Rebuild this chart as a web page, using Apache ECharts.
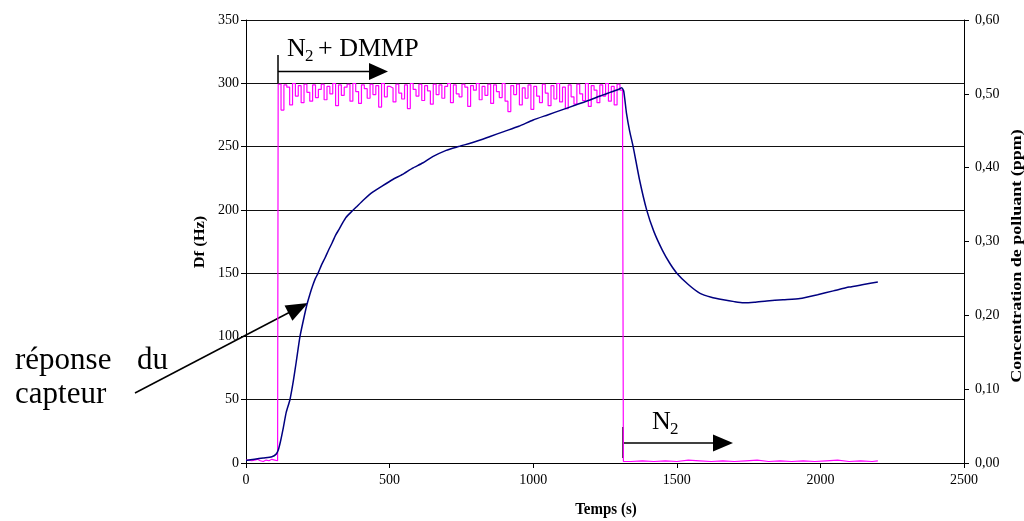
<!DOCTYPE html>
<html>
<head>
<meta charset="utf-8">
<script src="https://cdn.jsdelivr.net/npm/echarts@6/dist/echarts.min.js"></script>
<style>
html,body{margin:0;padding:0;background:#fff;}
#chart{width:1024px;height:521px;}
</style>
</head>
<body>
<div id="chart"></div>
<script>
// ---- data ----
var xTicks = [0, 500, 1000, 1500, 2000, 2500];
var leftTicks = [0, 50, 100, 150, 200, 250, 300, 350];
var rightTicks = ['0,00','0,10','0,20','0,30','0,40','0,50','0,60'];

// sensor response Δf (Hz)
var respTime = [0,30,60,90,105,112,120,130,140,153,165,175,188,200,212,222,232,241,251,263,275,288,300,312,325,336,348,365,383,410,441,475,511,545,580,615,650,697,740,800,850,900,950,1000,1050,1100,1150,1200,1233,1270,1300,1308,1315,1325,1336,1348,1370,1395,1420,1450,1475,1500,1540,1581,1620,1662,1700,1732,1770,1813,1870,1929,1990,2045,2100,2150,2200];
var respHz = [2,3,4,5,7,10,17,28,40,50,65,80,100,113,125,133,140,145.5,150,156.5,162,168.5,174,180,185,189.5,194,198,202,208,214,219,224,228,233,237,242,247,250,254,258,262,266,271,275,279,283,287,290,293,295.5,296.5,294,276,262,250,224,200,183,168,158,150,141,134,131,129,127.5,126.6,127,128,129,130,133,136,139,141,143];

// pollutant concentration (ppm)
var concTimeBefore = [0,10,20,30,40,50,60,70,80,90,100,110];
var concBefore = [0.004,0.003,0.004,0.005,0.003,0.002,0.004,0.003,0.005,0.004,0.003,0.004];
var concPlateau = [
0.513,0.478,0.512,0.509,0.485,0.514,0.497,0.511,0.488,0.513,
0.502,0.490,0.512,0.495,0.506,0.513,0.492,0.510,0.500,0.514,
0.484,0.512,0.498,0.509,0.513,0.490,0.514,0.503,0.487,0.512,
0.507,0.494,0.513,0.499,0.511,0.482,0.514,0.496,0.510,0.508,
0.489,0.513,0.501,0.493,0.512,0.480,0.514,0.506,0.497,0.513,
0.491,0.511,0.504,0.486,0.513,0.499,0.512,0.494,0.510,0.514,
0.488,0.512,0.500,0.496,0.513,0.509,0.483,0.511,0.505,0.514,
0.492,0.510,0.498,0.513,0.487,0.512,0.503,0.495,0.514,0.490,
0.476,0.511,0.499,0.513,0.485,0.508,0.494,0.512,0.479,0.510,
0.497,0.488,0.513,0.501,0.484,0.511,0.493,0.514,0.489,0.509,
0.480,0.512,0.496,0.486,0.513,0.500,0.491,0.514,0.483,0.511,
0.505,0.488,0.512,0.497,0.514,0.490,0.510,0.485,0.513,0.505];
var plateauStart = 112, plateauStep = 10;
var concTimeAfter = [1311,1314,1340,1380,1420,1460,1500,1540,1580,1620,1660,1700,1740,1780,1820,1860,1900,1940,1980,2020,2060,2100,2140,2180,2200];
var concAfter = [0.49,0.002,0.003,0.002,0.003,0.002,0.004,0.003,0.002,0.003,0.002,0.003,0.004,0.002,0.003,0.002,0.003,0.002,0.003,0.004,0.002,0.003,0.002,0.003,0.003];

// ---- build ----
var respData = respTime.map(function(t,i){return [t, respHz[i]];});
var concData = [];
concTimeBefore.forEach(function(t,i){concData.push([t, concBefore[i]]);});
concPlateau.forEach(function(v,i){concData.push([plateauStart + i*plateauStep, v]);});
concTimeAfter.forEach(function(t,i){concData.push([t, concAfter[i]]);});

var serif = 'Liberation Serif';
var chart = echarts.init(document.getElementById('chart'), null, {renderer:'canvas'});

function arrowHead(tip, dirx, diry, len, half){
  var n = Math.sqrt(dirx*dirx+diry*diry); dirx/=n; diry/=n;
  var bx = tip[0]-dirx*len, by = tip[1]-diry*len;
  return [[tip[0],tip[1]],[bx - diry*half, by + dirx*half],[bx + diry*half, by - dirx*half]];
}

chart.setOption({
  animation:false,
  backgroundColor:'#fff',
  grid:{left:246, right:60, top:20, bottom:58},
  xAxis:{
    type:'value', min:0, max:2500, interval:500,
    axisLine:{show:true, lineStyle:{color:'#000', width:1}},
    axisTick:{show:true, length:5, lineStyle:{color:'#000'}},
    axisLabel:{fontFamily:serif, fontSize:14, color:'#000', margin:10,
      formatter:function(v){return xTicks.indexOf(v)>=0 ? String(v) : '';}},
    splitLine:{show:false}
  },
  yAxis:[{
    type:'value', min:0, max:350, interval:50,
    axisLine:{show:true, lineStyle:{color:'#000', width:1}},
    axisTick:{show:true, length:5, lineStyle:{color:'#000'}},
    axisLabel:{fontFamily:serif, fontSize:14, color:'#000', margin:7,
      formatter:function(v){return leftTicks.indexOf(v)>=0 ? String(v) : '';}},
    splitLine:{show:true, lineStyle:{color:'#111', width:1}}
  },{
    type:'value', min:0, max:0.6, interval:0.1, position:'right',
    axisLine:{show:true, lineStyle:{color:'#000', width:1}},
    axisTick:{show:true, length:5, lineStyle:{color:'#000'}},
    axisLabel:{fontFamily:serif, fontSize:14, color:'#000', margin:11,
      formatter:function(v){return rightTicks[Math.round(v*10)] || '';}},
    splitLine:{show:false}
  }],
  series:[{
    type:'line', yAxisIndex:1, data:concData, showSymbol:false, symbol:'none', step:'end',
    lineStyle:{color:'#ff00ff', width:1.2}, z:2
  },{
    type:'line', yAxisIndex:0, data:respData, showSymbol:false, symbol:'none', smooth:0.2,
    lineStyle:{color:'#000080', width:1.5}, z:3
  }],
  graphic:[
    // axis names
    {type:'text', x:606, y:510, style:{text:'Temps (s)', font:'bold 15px "Liberation Serif"', fill:'#000', align:'center', verticalAlign:'middle'}, scaleY:1.15},
    {type:'text', x:200, y:242, rotation:Math.PI/2, style:{text:'Df (Hz)', font:'bold 15px "Liberation Serif"', fill:'#000', align:'center', verticalAlign:'middle'}, scaleX:1.1},
    {type:'text', x:1017, y:256, rotation:Math.PI/2, style:{text:'Concentration de polluant (ppm)', font:'bold 15px "Liberation Serif"', fill:'#000', align:'center', verticalAlign:'middle'}, scaleX:1.2},
    // N2 + DMMP
    {type:'text', x:287, y:49, style:{text:'N', font:'26px "Liberation Serif"', fill:'#000', align:'left', verticalAlign:'middle'}},
    {type:'text', x:305, y:57, style:{text:'2', font:'17px "Liberation Serif"', fill:'#000', align:'left', verticalAlign:'middle'}},
    {type:'text', x:318, y:49, style:{text:'+ DMMP', font:'26px "Liberation Serif"', fill:'#000', align:'left', verticalAlign:'middle'}},
    {type:'line', shape:{x1:278, y1:55, x2:278, y2:84}, style:{stroke:'#000', lineWidth:1.5}},
    {type:'line', shape:{x1:278, y1:71.5, x2:372, y2:71.5}, style:{stroke:'#000', lineWidth:1.5}},
    {type:'polygon', shape:{points:[[388,71.5],[369,63],[369,80]]}, style:{fill:'#000'}},
    // N2
    {type:'text', x:652, y:422, style:{text:'N', font:'26px "Liberation Serif"', fill:'#000', align:'left', verticalAlign:'middle'}},
    {type:'text', x:670, y:430, style:{text:'2', font:'17px "Liberation Serif"', fill:'#000', align:'left', verticalAlign:'middle'}},
    {type:'line', shape:{x1:623, y1:427, x2:623, y2:458}, style:{stroke:'#000', lineWidth:1.5}},
    {type:'line', shape:{x1:623, y1:443, x2:716, y2:443}, style:{stroke:'#000', lineWidth:1.5}},
    {type:'polygon', shape:{points:[[733,443],[713,434.5],[713,451.5]]}, style:{fill:'#000'}},
    // réponse du capteur
    {type:'text', x:15, y:361, style:{text:'réponse', font:'31px "Liberation Serif"', fill:'#000', align:'left', verticalAlign:'middle'}},
    {type:'text', x:137, y:361, style:{text:'du', font:'31px "Liberation Serif"', fill:'#000', align:'left', verticalAlign:'middle'}},
    {type:'text', x:15, y:395, style:{text:'capteur', font:'31px "Liberation Serif"', fill:'#000', align:'left', verticalAlign:'middle'}},
    {type:'line', shape:{x1:135, y1:393, x2:292, y2:311}, style:{stroke:'#000', lineWidth:1.5}},
    {type:'polygon', shape:{points:arrowHead([308,303],173,-90,22,8.5)}, style:{fill:'#000'}}
  ]
});
</script>
</body>
</html>
